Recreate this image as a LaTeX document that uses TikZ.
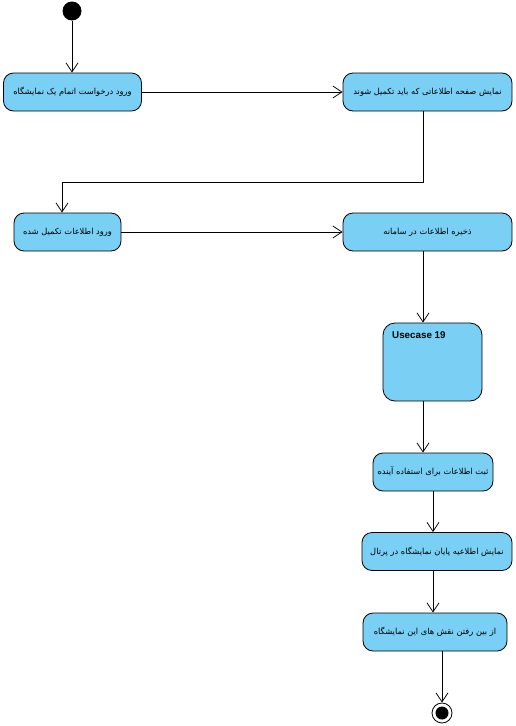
\documentclass[tikz,border=0pt]{standalone}
\usepackage{fontspec}
\setmainfont{Liberation Sans}
\newfontfamily\arabicfont[Script=Arabic]{DejaVu Sans}
\TeXXeTstate=1
\usetikzlibrary{arrows.meta,calc}
\definecolor{actfill}{HTML}{7ACFF5}
\tikzset{
  act/.style={draw=black, fill=actfill, rounded corners=10pt, minimum height=38pt, inner sep=0pt, line width=0.8pt,
              font=\arabicfont\fontsize{8.3}{10}\selectfont},
  flow/.style={draw=black, line width=0.8pt, -{Straight Barb[length=9pt,width=12pt,line width=0.8pt]}},
}
\newcommand{\fa}[1]{\beginR #1\endR}
\begin{document}
\begin{tikzpicture}[x=1pt,y=-1pt]
\useasboundingbox (0,0) rectangle (516,726);
% initial
\node[circle, fill=black, minimum size=19pt, inner sep=0pt] (init) at (72,11) {};
% activities
\node[act, minimum width=138pt] (n1) at (72.5,92) {\fa{ورود درخواست اتمام یک نمایشگاه}};
\node[act, minimum width=169pt] (n2) at (427.5,92) {\fa{نمایش صفحه اطلاعاتی که باید تکمیل شوند}};
\node[act, minimum width=107pt] (n3) at (67.5,232) {\fa{ورود اطلاعات تکمیل شده}};
\node[act, minimum width=169pt] (n4) at (427.5,232) {\fa{ذخیره اطلاعات در سامانه}};
\node[draw=black, fill=actfill, rounded corners=12pt, line width=0.8pt, minimum width=99pt, minimum height=78pt, inner sep=0pt] (uc) at (432.5,362) {};
\node[anchor=north west, inner sep=0pt, font=\bfseries\fontsize{9.8}{11}\selectfont] (uct) at (392,331.5) {Usecase 19};
\node[act, minimum width=120pt] (n5) at (433,472) {\fa{ثبت اطلاعات برای استفاده آینده}};
\node[act, minimum width=150pt] (n6) at (437,551.5) {\fa{نمایش اطلاعیه پایان نمایشگاه در پرتال}};
\node[act, minimum width=144pt] (n7) at (435,632) {\fa{از بین رفتن نقش های این نمایشگاه}};
% final
\node[circle, draw=black, fill=white, line width=0.8pt, minimum size=20pt, inner sep=0pt] (fin) at (442,713) {};
\node[circle, fill=black, minimum size=13pt, inner sep=0pt] (finin) at (fin) {};
% helper coordinates
\coordinate (xa) at (423,0);
\coordinate (xb) at (433,0);
\coordinate (bend1) at (423,182);
\coordinate (bend2) at (62,182);
% connectors
\draw[flow] (init) -- (init |- n1.north);
\draw[flow] (n1) -- (n2);
\draw[flow] (n2.south -| bend1) -- (bend1) -- (bend2) -- (n3.north -| bend2);
\draw[flow] (n3) -- (n4);
\draw[flow] (n4.south -| xa) -- (uc.north -| xa);
\draw[flow] (uc.south -| xa) -- (n5.north -| xa);
\draw[flow] (n5.south -| xb) -- (n6.north -| xb);
\draw[flow] (n6.south -| xb) -- (n7.north -| xb);
\draw[flow] (n7.south -| fin) -- (fin);
\end{tikzpicture}
\end{document}
